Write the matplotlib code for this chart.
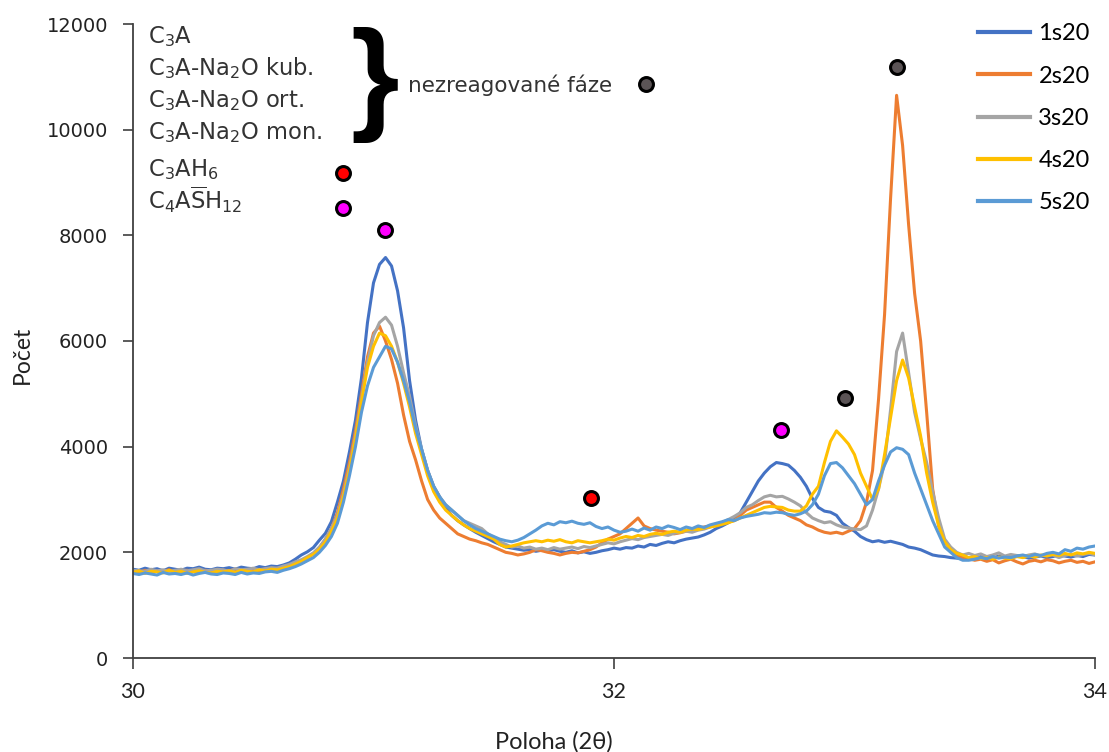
import numpy as np
import matplotlib
matplotlib.use('Agg')
import matplotlib.pyplot as plt

plt.rcParams['mathtext.fontset'] = 'dejavusans'

# ---- data (2theta grid and counts) ----
two_theta = np.linspace(30, 34, 161)

s1 = [1680,1660,1700,1670,1690,1650,1700,1680,1660,1700,1690,1720,1680,1670,1700,1690,1710,1680,1720,1700,1690,1730,1710,1740,1730,
      1760,1800,1870,1950,2010,2090,2230,2360,2580,2950,3350,3900,4500,5300,6350,7100,7450,7580,7420,6950,
      6250,5250,4500,3950,3550,3250,3050,2850,2700,2600,2520,2450,2380,2320,2260,2200,
      2150,2100,2080,2060,2040,2050,2020,2040,2030,2050,2020,2000,2030,1990,2010,1980,2000,2030,2050,2080,
      2060,2090,2080,2120,2100,2150,2130,2170,2200,2180,2220,2250,2270,2290,2330,2380,2450,2500,2560,2620,
      2750,2950,3150,3350,3500,3620,3700,3680,3650,3550,3420,3250,3020,2850,2780,2760,2700,2550,2470,2400,
      2300,2240,2200,2220,2190,2210,2180,2150,2100,2080,2050,2000,1950,1930,1920,1900,1890,1880,
      1900,1880,1920,1900,1890,1930,1910,1900,1940,1920,1890,1910,1930,1900,1920,1950,1930,1910,1940,1920,1960,1950]

s2 = [1640,1620,1660,1630,1650,1640,1670,1620,1650,1660,1640,1630,1660,1640,1620,1660,1650,1680,1640,1670,1660,1650,1690,1670,1700,
      1720,1760,1800,1850,1900,1980,2080,2250,2450,2750,3200,3700,4300,5000,5700,6150,6280,6000,5650,5200,
      4600,4100,3750,3350,3000,2800,2650,2550,2450,2350,2300,2250,2220,2180,2150,2100,
      2050,2000,1980,1950,1970,2000,2050,2030,2000,1980,1950,1980,2000,1990,2020,2050,2100,2180,2250,2300,
      2350,2450,2550,2650,2500,2450,2420,2400,2380,2350,2370,2400,2420,2450,2480,2500,2520,2560,2580,2600,
      2700,2800,2850,2900,2950,2950,2850,2780,2700,2650,2600,2520,2480,2420,2380,2360,2380,2350,2400,2450,
      2600,2950,3550,4900,6500,8700,10650,9700,8200,6900,6000,4650,3200,2500,2200,2050,1950,1900,
      1880,1850,1870,1830,1860,1800,1840,1870,1820,1780,1830,1850,1820,1860,1840,1800,1830,1850,1810,1830,1790,1820]

s3 = [1660,1650,1640,1680,1650,1670,1640,1660,1680,1650,1670,1690,1650,1660,1680,1670,1640,1690,1670,1680,1700,1670,1690,1710,1700,
      1740,1770,1820,1860,1920,1990,2100,2250,2450,2700,3100,3600,4200,4900,5600,6100,6350,6450,6300,5900,
      5400,4950,4400,3950,3550,3250,3050,2900,2800,2700,2600,2550,2500,2450,2350,2280,
      2200,2150,2100,2120,2080,2100,2060,2080,2050,2090,2060,2080,2100,2070,2110,2090,2120,2150,2180,2160,
      2200,2230,2260,2240,2280,2300,2320,2340,2320,2360,2380,2400,2380,2420,2440,2480,2520,2560,2620,2680,
      2750,2850,2900,2980,3050,3080,3050,3060,3010,2950,2880,2750,2650,2600,2560,2580,2520,2480,2460,2440,
      2430,2500,2800,3200,3700,4700,5800,6150,5400,4650,4150,3700,3150,2650,2250,2100,2000,1950,
      1980,1940,1970,1920,1950,1990,1930,1960,1940,1920,1950,1970,1930,1960,1950,1900,1940,1970,1930,1960,1980,1950]

s4 = [1620,1650,1600,1640,1630,1610,1660,1620,1640,1600,1630,1650,1620,1610,1640,1630,1650,1620,1660,1640,1630,1670,1650,1680,1670,
      1700,1730,1780,1830,1900,1960,2060,2200,2400,2650,3050,3550,4150,4850,5500,5900,6150,6100,5900,5600,
      5200,4750,4250,3850,3450,3150,2950,2800,2700,2600,2520,2450,2400,2350,2300,2250,
      2150,2100,2120,2150,2180,2200,2220,2200,2230,2210,2240,2200,2180,2220,2200,2180,2200,2220,2250,2230,
      2270,2300,2280,2320,2300,2340,2360,2340,2380,2400,2380,2420,2440,2430,2460,2480,2500,2530,2560,2600,
      2650,2700,2750,2800,2850,2870,2860,2850,2800,2780,2780,2880,3100,3250,3700,4100,4300,4180,4050,3850,
      3500,3250,3000,3200,3850,4550,5250,5640,5300,4750,4200,3500,2950,2500,2200,2050,1980,1950,
      1900,1920,1880,1900,1870,1910,1890,1880,1920,1900,1930,1910,1950,1930,1960,1940,1980,1950,1990,1970,2000,1980]

s5 = [1600,1580,1610,1590,1570,1620,1590,1600,1580,1610,1570,1600,1620,1590,1580,1610,1600,1580,1620,1590,1610,1600,1630,1640,1620,
      1660,1690,1730,1780,1840,1900,2000,2130,2300,2550,2950,3450,4000,4650,5150,5500,5700,5900,5850,5600,
      5250,4850,4350,3950,3550,3250,3050,2900,2800,2700,2600,2520,2450,2400,2350,2300,
      2250,2220,2200,2230,2280,2350,2420,2500,2550,2520,2580,2560,2590,2550,2530,2560,2490,2450,2480,2420,
      2380,2400,2440,2400,2460,2420,2480,2450,2500,2470,2430,2480,2450,2500,2470,2520,2550,2580,2620,2600,
      2650,2680,2700,2720,2750,2740,2760,2750,2720,2700,2730,2780,2900,3100,3450,3680,3700,3600,3450,3300,
      3100,2900,3000,3350,3650,3900,3980,3950,3850,3500,3200,2900,2600,2350,2100,2000,1900,1850,
      1850,1870,1900,1880,1920,1890,1910,1900,1930,1950,1920,1960,1940,1980,2000,1970,2050,2020,2080,2060,2100,2120]

series_names = ['1s20', '2s20', '3s20', '4s20', '5s20']
series_colors = ['#4472C4', '#ED7D31', '#A5A5A5', '#FFC000', '#5B9BD5']

# phase markers
marker_x = [30.873, 30.873, 31.048, 31.904, 32.694, 32.133, 32.96, 33.177]
marker_y = [9181, 8519, 8102, 3029, 4316, 10866, 4922, 11188]
marker_colors = ['#FF0000', '#FF00FF', '#FF00FF', '#FF0000', '#FF00FF', '#5B5456', '#5B5456', '#5B5456']

phase_labels = [r'C$_3$A', r'C$_3$A-Na$_2$O kub.', r'C$_3$A-Na$_2$O ort.',
                r'C$_3$A-Na$_2$O mon.', r'C$_3$AH$_6$', r'C$_4$A$\overline{\mathrm{S}}$H$_{12}$']
group_label = 'nezreagované fáze'

x_ticks = [30, 32, 34]
y_ticks = [0, 2000, 4000, 6000, 8000, 10000, 12000]

# ---- figure ----
W, H = 1109, 752
fig = plt.figure(figsize=(W / 100, H / 100), dpi=100)

def fx(px):
    return px / W

def fy(py):
    return 1 - py / H

ax = fig.add_axes([fx(133), fy(658), fx(1095) - fx(133), fy(24) - fy(658)])

all_series = [s1, s2, s3, s4, s5]
handles = []
for vals, name, col in zip(all_series, series_names, series_colors):
    h, = ax.plot(two_theta, vals, color=col, lw=2.2, label=name, solid_joinstyle='round')
    handles.append(h)

for mx, my, mc in zip(marker_x, marker_y, marker_colors):
    ax.plot([mx], [my], 'o', ms=10, mfc=mc, mec='black', mew=2.2, zorder=5, clip_on=False)

ax.set_xlim(30, 34)
ax.set_ylim(0, 12000)
ax.set_xticks(x_ticks)
ax.set_yticks(y_ticks)
ax.set_xticklabels([str(t) for t in x_ticks], fontfamily=['Lato', 'DejaVu Sans'], fontsize=15.5, color='#222222')
ax.set_yticklabels([str(t) for t in y_ticks], fontfamily='DejaVu Sans', fontsize=14, color='#222222')
ax.tick_params(axis='y', direction='out', length=7, width=1.2, pad=11, colors='#404040', labelcolor='#222222')
ax.tick_params(axis='x', direction='out', length=8, width=1.2, pad=9, colors='#404040', labelcolor='#222222')
for side in ['top', 'right']:
    ax.spines[side].set_visible(False)
for side in ['left', 'bottom']:
    ax.spines[side].set_color('#404040')
    ax.spines[side].set_linewidth(1.3)

fig.text(fx(554), fy(742), 'Poloha (2θ)', ha='center', va='center',
         fontfamily=['Lato', 'DejaVu Sans'], fontsize=17, color='#222222')
fig.text(fx(22), fy(355), 'Počet', ha='center', va='center', rotation=90,
         fontfamily=['Lato', 'DejaVu Sans'], fontsize=16.5, color='#222222')

# phase labels
baselines = [43, 75, 107, 139, 176, 209]
for lab, b in zip(phase_labels, baselines):
    fig.text(fx(148), fy(b), lab, ha='left', va='baseline', fontfamily='DejaVu Sans',
             fontsize=16.3, color='#333333')

fig.text(fx(375), fy(85), '}', ha='center', va='center', fontfamily='Liberation Sans',
         fontweight='bold', fontsize=90, color='black')
fig.text(fx(408), fy(92), group_label, ha='left', va='baseline', fontfamily='DejaVu Sans',
         fontsize=15.5, color='#333333')

leg = fig.legend(handles=handles, loc='upper left', bbox_to_anchor=(fx(969), fy(14)),
                 frameon=False, borderaxespad=0, handlelength=2.2, handletextpad=0.34,
                 labelspacing=0.9, prop={'family': ['Lato', 'DejaVu Sans'], 'size': 17})
for line in leg.get_lines():
    line.set_linewidth(3)

fig.savefig('out.png', dpi=100)
